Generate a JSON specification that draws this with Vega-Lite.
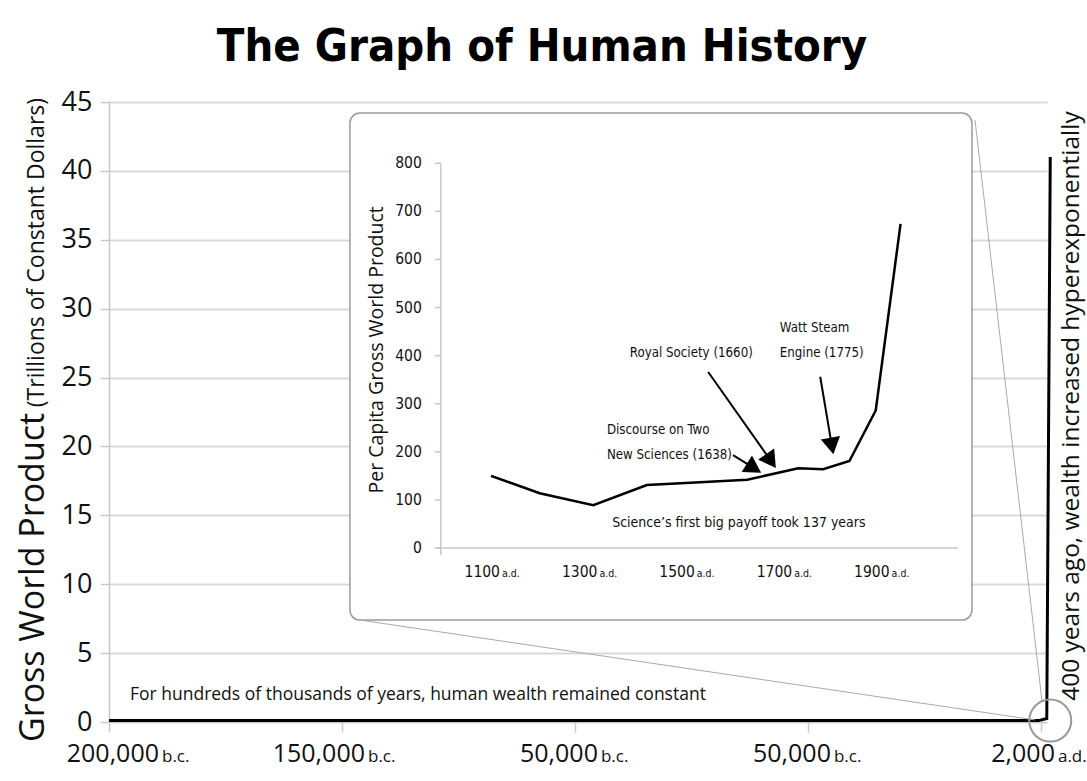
{
  "$schema": "https://vega.github.io/schema/vega-lite/v6.json",
  "width": 938,
  "height": 620,
  "autosize": {"type": "none"},
  "padding": {"left": 109, "top": 102, "right": 40, "bottom": 59},
  "background": "white",
  "title": {
    "text": "The Graph of Human History",
    "font": "Liberation Sans Narrow, DejaVu Sans Condensed, Roboto",
    "fontSize": 45,
    "fontWeight": "bold",
    "color": "#000000",
    "anchor": "middle",
    "dx": -36,
    "dy": 56,
    "baseline": "alphabetic",
    "offset": 38
  },
  "config": {
    "view": {"stroke": null},
    "text": {"font": "Open Sans", "color": "#111111"},
    "axis": {"labelFont": "Open Sans"}
  },
  "datasets": {
    "gwp": [
      {"i": 1, "x": 0, "gwp": 0.1},
      {"i": 2, "x": 3.99, "gwp": 0.1},
      {"i": 3, "x": 4.025, "gwp": 0.25},
      {"i": 4, "x": 4.04, "gwp": 41}
    ],
    "xlabels": [
      {"x": 0, "num": "200,000", "era": "b.c."},
      {"x": 1, "num": "150,000", "era": "b.c."},
      {"x": 2, "num": "50,000", "era": "b.c."},
      {"x": 3, "num": "50,000", "era": "b.c."},
      {"x": 4, "num": "2,000", "era": "a.d."}
    ],
    "connectors": [
      {"x1": 3.717, "y1": 43.69, "x2": 4.004, "y2": 1.6},
      {"x1": 1.077, "y1": 7.4, "x2": 3.974, "y2": 0.15}
    ],
    "percap": [
      {"year": 1100, "pc": 150},
      {"year": 1200, "pc": 114},
      {"year": 1310, "pc": 89},
      {"year": 1420, "pc": 131},
      {"year": 1529, "pc": 137},
      {"year": 1626, "pc": 142},
      {"year": 1731, "pc": 166},
      {"year": 1782, "pc": 164},
      {"year": 1836, "pc": 181},
      {"year": 1890, "pc": 286},
      {"year": 1941, "pc": 674}
    ],
    "arrows": [
      {"x1": 1597, "y1": 193, "x2": 1640, "y2": 166, "ang": 302},
      {"x1": 1546, "y1": 366, "x2": 1675, "y2": 181, "ang": 325},
      {"x1": 1776, "y1": 356, "x2": 1800, "y2": 212, "ang": 350}
    ],
    "notes": [
      {"year": 1385, "pc": 405, "label": "Royal Society (1660)"},
      {"year": 1693, "pc": 457, "label": "Watt Steam"},
      {"year": 1693, "pc": 405, "label": "Engine (1775)"},
      {"year": 1338, "pc": 245, "label": "Discourse on Two"},
      {"year": 1338, "pc": 193, "label": "New Sciences (1638)"}
    ],
    "iyticks": [
      {"v": 0}, {"v": 100}, {"v": 200}, {"v": 300}, {"v": 400},
      {"v": 500}, {"v": 600}, {"v": 700}, {"v": 800}
    ],
    "ixticks": [
      {"year": 1100, "num": "1100", "era": "a.d."},
      {"year": 1300, "num": "1300", "era": "a.d."},
      {"year": 1500, "num": "1500", "era": "a.d."},
      {"year": 1700, "num": "1700", "era": "a.d."},
      {"year": 1900, "num": "1900", "era": "a.d."}
    ]
  },
  "layer": [
    {
      "data": {"name": "gwp"},
      "mark": {"type": "line", "color": "#000000", "strokeWidth": 3, "strokeJoin": "miter"},
      "encoding": {
        "x": {
          "field": "x", "type": "quantitative",
          "scale": {"domain": [0, 4.026], "nice": false, "zero": false},
          "axis": {
            "title": null, "values": [0, 1, 2, 3, 4], "labels": false,
            "tickSize": 10, "tickColor": "#c8c8c8", "tickWidth": 1.5,
            "domainColor": "#c8c8c8", "grid": false
          }
        },
        "y": {
          "field": "gwp", "type": "quantitative",
          "scale": {"domain": [0, 45], "nice": false, "zero": false},
          "axis": {
            "title": null, "values": [0, 5, 10, 15, 20, 25, 30, 35, 40, 45],
            "labelFontSize": 27, "labelColor": "#111111", "labelPadding": 8,
            "tickSize": 9, "tickColor": "#c8c8c8", "tickWidth": 1.5,
            "domainColor": "#c8c8c8", "domainWidth": 1.5,
            "gridColor": "#d9d9d9", "gridWidth": 2
          }
        },
        "order": {"field": "i", "type": "quantitative"}
      }
    },
    {
      "data": {"values": [{}]},
      "mark": {"type": "rect", "cornerRadius": 10, "fill": "white", "stroke": "#9a9a9a", "strokeWidth": 1.5},
      "encoding": {
        "x": {"datum": 1.034, "type": "quantitative", "axis": null, "scale": {"domain": [0, 4.026], "nice": false, "zero": false}},
        "x2": {"datum": 3.704},
        "y": {"datum": 44.2, "type": "quantitative", "axis": null, "scale": {"domain": [0, 45], "nice": false, "zero": false}},
        "y2": {"datum": 7.4}
      }
    },
    {
      "data": {"name": "connectors"},
      "mark": {"type": "rule", "color": "#aaaaaa", "strokeWidth": 1},
      "encoding": {
        "x": {"field": "x1", "type": "quantitative", "axis": null, "scale": {"domain": [0, 4.026], "nice": false, "zero": false}},
        "x2": {"field": "x2"},
        "y": {"field": "y1", "type": "quantitative", "axis": null, "scale": {"domain": [0, 45], "nice": false, "zero": false}},
        "y2": {"field": "y2"}
      }
    },
    {
      "data": {"values": [{}]},
      "mark": {"type": "point", "shape": "circle", "size": 1764, "filled": false, "stroke": "#999999", "strokeWidth": 2, "opacity": 1},
      "encoding": {
        "x": {"datum": 4.04, "type": "quantitative", "axis": null, "scale": {"domain": [0, 4.026], "nice": false, "zero": false}},
        "y": {"datum": 0.1, "type": "quantitative", "axis": null, "scale": {"domain": [0, 45], "nice": false, "zero": false}}
      }
    },
    {
      "data": {"name": "xlabels"},
      "transform": [{"filter": "datum.x == 0"}],
      "mark": {"type": "text", "align": "right", "baseline": "alphabetic", "dx": 50, "fontSize": 25},
      "encoding": {
        "x": {"field": "x", "type": "quantitative", "axis": null, "scale": {"domain": [0, 4.026], "nice": false, "zero": false}},
        "y": {"datum": -2.9, "type": "quantitative", "axis": null, "scale": {"domain": [0, 45], "nice": false, "zero": false}},
        "text": {"field": "num"}
      }
    },
    {
      "data": {"name": "xlabels"},
      "transform": [{"filter": "datum.x == 0"}],
      "mark": {"type": "text", "align": "left", "baseline": "alphabetic", "dx": 53, "fontSize": 17},
      "encoding": {
        "x": {"field": "x", "type": "quantitative", "axis": null, "scale": {"domain": [0, 4.026], "nice": false, "zero": false}},
        "y": {"datum": -2.9, "type": "quantitative", "axis": null, "scale": {"domain": [0, 45], "nice": false, "zero": false}},
        "text": {"field": "era"}
      }
    },
    {
      "data": {"name": "xlabels"},
      "transform": [{"filter": "datum.x > 0 && datum.x < 4"}],
      "mark": {"type": "text", "align": "right", "baseline": "alphabetic", "dx": 23, "fontSize": 25},
      "encoding": {
        "x": {"field": "x", "type": "quantitative", "axis": null, "scale": {"domain": [0, 4.026], "nice": false, "zero": false}},
        "y": {"datum": -2.9, "type": "quantitative", "axis": null, "scale": {"domain": [0, 45], "nice": false, "zero": false}},
        "text": {"field": "num"}
      }
    },
    {
      "data": {"name": "xlabels"},
      "transform": [{"filter": "datum.x > 0 && datum.x < 4"}],
      "mark": {"type": "text", "align": "left", "baseline": "alphabetic", "dx": 26, "fontSize": 17},
      "encoding": {
        "x": {"field": "x", "type": "quantitative", "axis": null, "scale": {"domain": [0, 4.026], "nice": false, "zero": false}},
        "y": {"datum": -2.9, "type": "quantitative", "axis": null, "scale": {"domain": [0, 45], "nice": false, "zero": false}},
        "text": {"field": "era"}
      }
    },
    {
      "data": {"name": "xlabels"},
      "transform": [{"filter": "datum.x == 4"}],
      "mark": {"type": "text", "align": "right", "baseline": "alphabetic", "dx": 14, "fontSize": 25},
      "encoding": {
        "x": {"field": "x", "type": "quantitative", "axis": null, "scale": {"domain": [0, 4.026], "nice": false, "zero": false}},
        "y": {"datum": -2.9, "type": "quantitative", "axis": null, "scale": {"domain": [0, 45], "nice": false, "zero": false}},
        "text": {"field": "num"}
      }
    },
    {
      "data": {"name": "xlabels"},
      "transform": [{"filter": "datum.x == 4"}],
      "mark": {"type": "text", "align": "left", "baseline": "alphabetic", "dx": 17, "fontSize": 17},
      "encoding": {
        "x": {"field": "x", "type": "quantitative", "axis": null, "scale": {"domain": [0, 4.026], "nice": false, "zero": false}},
        "y": {"datum": -2.9, "type": "quantitative", "axis": null, "scale": {"domain": [0, 45], "nice": false, "zero": false}},
        "text": {"field": "era"}
      }
    },
    {
      "data": {"values": [{"t": "Gross World Product"}]},
      "mark": {"type": "text", "align": "left", "baseline": "alphabetic", "angle": 270, "fontSize": 34},
      "encoding": {
        "x": {"datum": -0.279, "type": "quantitative", "axis": null, "scale": {"domain": [0, 4.026], "nice": false, "zero": false}},
        "y": {"datum": -1.45, "type": "quantitative", "axis": null, "scale": {"domain": [0, 45], "nice": false, "zero": false}},
        "text": {"field": "t"}
      }
    },
    {
      "data": {"values": [{"t": "(Trillions of Constant Dollars)"}]},
      "mark": {"type": "text", "align": "left", "baseline": "alphabetic", "angle": 270, "fontSize": 23},
      "encoding": {
        "x": {"datum": -0.279, "type": "quantitative", "axis": null, "scale": {"domain": [0, 4.026], "nice": false, "zero": false}},
        "y": {"datum": 22.85, "type": "quantitative", "axis": null, "scale": {"domain": [0, 45], "nice": false, "zero": false}},
        "text": {"field": "t"}
      }
    },
    {
      "data": {"values": [{"t": "For hundreds of thousands of years, human wealth remained constant"}]},
      "mark": {"type": "text", "align": "left", "baseline": "alphabetic", "fontSize": 17.5},
      "encoding": {
        "x": {"datum": 0.09, "type": "quantitative", "axis": null, "scale": {"domain": [0, 4.026], "nice": false, "zero": false}},
        "y": {"datum": 1.6, "type": "quantitative", "axis": null, "scale": {"domain": [0, 45], "nice": false, "zero": false}},
        "text": {"field": "t"}
      }
    },
    {
      "data": {"values": [{"t": "400 years ago, wealth increased hyperexponentially"}]},
      "mark": {"type": "text", "align": "center", "baseline": "middle", "angle": 270, "fontSize": 24.5},
      "encoding": {
        "x": {"datum": 4.133, "type": "quantitative", "axis": null, "scale": {"domain": [0, 4.026], "nice": false, "zero": false}},
        "y": {"datum": 22.93, "type": "quantitative", "axis": null, "scale": {"domain": [0, 45], "nice": false, "zero": false}},
        "text": {"field": "t"}
      }
    },
    {
      "data": {"name": "iyticks"},
      "mark": {"type": "rule", "color": "#c8c8c8", "strokeWidth": 1.5},
      "encoding": {
        "x": {"datum": 985, "type": "quantitative", "axis": null, "scale": {"domain": [315.6, 2241.7], "nice": false, "zero": false}},
        "x2": {"datum": 997},
        "y": {"field": "v", "type": "quantitative", "axis": null, "scale": {"domain": [-361.7, 927.3], "nice": false, "zero": false}}
      }
    },
    {
      "data": {"values": [{}]},
      "mark": {"type": "rule", "color": "#c8c8c8", "strokeWidth": 1.5},
      "encoding": {
        "x": {"datum": 997, "type": "quantitative", "axis": null, "scale": {"domain": [315.6, 2241.7], "nice": false, "zero": false}},
        "y": {"datum": -15, "type": "quantitative", "axis": null, "scale": {"domain": [-361.7, 927.3], "nice": false, "zero": false}},
        "y2": {"datum": 800}
      }
    },
    {
      "data": {"values": [{}]},
      "mark": {"type": "rule", "color": "#c8c8c8", "strokeWidth": 1.5},
      "encoding": {
        "x": {"datum": 985, "type": "quantitative", "axis": null, "scale": {"domain": [315.6, 2241.7], "nice": false, "zero": false}},
        "x2": {"datum": 2059},
        "y": {"datum": 0, "type": "quantitative", "axis": null, "scale": {"domain": [-361.7, 927.3], "nice": false, "zero": false}}
      }
    },
    {
      "data": {"name": "iyticks"},
      "mark": {"type": "text", "align": "right", "baseline": "middle", "fontSize": 15.5, "font": "Liberation Sans Narrow, DejaVu Sans Condensed, Roboto"},
      "encoding": {
        "x": {"datum": 958, "type": "quantitative", "axis": null, "scale": {"domain": [315.6, 2241.7], "nice": false, "zero": false}},
        "y": {"field": "v", "type": "quantitative", "axis": null, "scale": {"domain": [-361.7, 927.3], "nice": false, "zero": false}},
        "text": {"field": "v"}
      }
    },
    {
      "data": {"name": "ixticks"},
      "mark": {"type": "text", "align": "right", "baseline": "middle", "dx": 9, "fontSize": 15.5, "font": "Liberation Sans Narrow, DejaVu Sans Condensed, Roboto"},
      "encoding": {
        "x": {"field": "year", "type": "quantitative", "axis": null, "scale": {"domain": [315.6, 2241.7], "nice": false, "zero": false}},
        "y": {"datum": -50, "type": "quantitative", "axis": null, "scale": {"domain": [-361.7, 927.3], "nice": false, "zero": false}},
        "text": {"field": "num"}
      }
    },
    {
      "data": {"name": "ixticks"},
      "mark": {"type": "text", "align": "left", "baseline": "middle", "dx": 11, "dy": 2, "fontSize": 10.5, "font": "Liberation Sans Narrow, DejaVu Sans Condensed, Roboto"},
      "encoding": {
        "x": {"field": "year", "type": "quantitative", "axis": null, "scale": {"domain": [315.6, 2241.7], "nice": false, "zero": false}},
        "y": {"datum": -50, "type": "quantitative", "axis": null, "scale": {"domain": [-361.7, 927.3], "nice": false, "zero": false}},
        "text": {"field": "era"}
      }
    },
    {
      "data": {"values": [{"t": "Per Capita Gross World Product"}]},
      "mark": {"type": "text", "align": "center", "baseline": "middle", "angle": 270, "fontSize": 19.5},
      "encoding": {
        "x": {"datum": 866, "type": "quantitative", "axis": null, "scale": {"domain": [315.6, 2241.7], "nice": false, "zero": false}},
        "y": {"datum": 412, "type": "quantitative", "axis": null, "scale": {"domain": [-361.7, 927.3], "nice": false, "zero": false}},
        "text": {"field": "t"}
      }
    },
    {
      "data": {"name": "percap"},
      "mark": {"type": "line", "color": "#000000", "strokeWidth": 2.5},
      "encoding": {
        "x": {"field": "year", "type": "quantitative", "axis": null, "scale": {"domain": [315.6, 2241.7], "nice": false, "zero": false}},
        "y": {"field": "pc", "type": "quantitative", "axis": null, "scale": {"domain": [-361.7, 927.3], "nice": false, "zero": false}}
      }
    },
    {
      "data": {"name": "arrows"},
      "mark": {"type": "rule", "color": "#000000", "strokeWidth": 2},
      "encoding": {
        "x": {"field": "x1", "type": "quantitative", "axis": null, "scale": {"domain": [315.6, 2241.7], "nice": false, "zero": false}},
        "x2": {"field": "x2"},
        "y": {"field": "y1", "type": "quantitative", "axis": null, "scale": {"domain": [-361.7, 927.3], "nice": false, "zero": false}},
        "y2": {"field": "y2"}
      }
    },
    {
      "data": {"name": "arrows"},
      "mark": {"type": "point", "shape": "triangle-down", "size": 380, "filled": true, "color": "#000000", "opacity": 1},
      "encoding": {
        "x": {"field": "x2", "type": "quantitative", "axis": null, "scale": {"domain": [315.6, 2241.7], "nice": false, "zero": false}},
        "y": {"field": "y2", "type": "quantitative", "axis": null, "scale": {"domain": [-361.7, 927.3], "nice": false, "zero": false}},
        "angle": {"field": "ang", "type": "quantitative", "scale": null}
      }
    },
    {
      "data": {"name": "notes"},
      "mark": {"type": "text", "align": "left", "baseline": "middle", "fontSize": 13.2, "font": "Liberation Sans Narrow, DejaVu Sans Condensed, Roboto"},
      "encoding": {
        "x": {"field": "year", "type": "quantitative", "axis": null, "scale": {"domain": [315.6, 2241.7], "nice": false, "zero": false}},
        "y": {"field": "pc", "type": "quantitative", "axis": null, "scale": {"domain": [-361.7, 927.3], "nice": false, "zero": false}},
        "text": {"field": "label"}
      }
    },
    {
      "data": {"values": [{"t": "Science’s first big payoff took 137 years"}]},
      "mark": {"type": "text", "align": "center", "baseline": "middle", "fontSize": 14, "font": "Liberation Sans Narrow, DejaVu Sans Condensed, Roboto"},
      "encoding": {
        "x": {"datum": 1609, "type": "quantitative", "axis": null, "scale": {"domain": [315.6, 2241.7], "nice": false, "zero": false}},
        "y": {"datum": 52, "type": "quantitative", "axis": null, "scale": {"domain": [-361.7, 927.3], "nice": false, "zero": false}},
        "text": {"field": "t"}
      }
    }
  ],
  "resolve": {"scale": {"x": "independent", "y": "independent"}}
}
